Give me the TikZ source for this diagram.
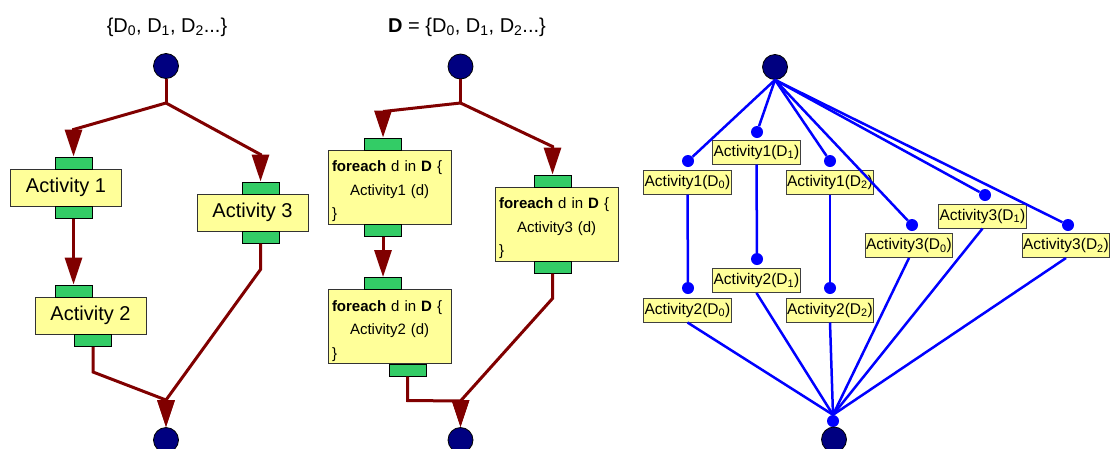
\documentclass[tikz,border=0pt]{standalone}
\usepackage{fontspec}
\setmainfont{Liberation Sans}
\usetikzlibrary{arrows.meta,calc}
\definecolor{boxyellow}{HTML}{FFFF99}
\definecolor{tabgreen}{HTML}{33CC66}
\definecolor{navyc}{HTML}{000080}
\definecolor{maroonc}{HTML}{800000}
\definecolor{bluec}{HTML}{0000FF}
\tikzset{
  act/.style={draw=black!80, fill=boxyellow, line width=1pt, inner sep=0pt,
    minimum width=111pt, minimum height=37pt, font=\fontsize{20}{24}\selectfont},
  loopbox/.style={draw=black!80, fill=boxyellow, line width=1pt, inner xsep=4pt, inner ysep=2pt,
    minimum width=123pt, minimum height=74pt, text width=115pt, align=left,
    font=\fontsize{15}{23.5}\selectfont},
  tabbox/.style={draw=black, fill=tabgreen, line width=1pt, inner sep=0pt,
    minimum width=37pt, minimum height=12pt},
  endpoint/.style={circle, draw=black, fill=navyc, line width=0.8pt, inner sep=0pt, minimum size=25pt},
  flow/.style={draw=maroonc, line width=3pt},
  flowarrow/.style={flow, -{Triangle[length=27pt,width=17pt]}},
  lbl/.style={draw=black!75, fill=boxyellow, line width=1pt, inner sep=1pt,
    minimum width=87pt, minimum height=24pt, font=\fontsize{15.5}{18}\selectfont},
  bdot/.style={circle, fill=bluec, inner sep=0pt, minimum size=12pt},
  blink/.style={draw=bluec, line width=2.5pt},
  titletext/.style={font=\fontsize{20}{24}\selectfont},
}
\newcommand{\Dsub}[1]{D\textsubscript{#1}}
\newcommand{\loopbody}[1]{\rule{0pt}{19.5pt}\textbf{foreach} d in \textbf{D} \{\\\hspace*{18pt}#1 (d)\\\}}
\begin{document}
\begin{tikzpicture}[x=1pt,y=-1pt]
\useasboundingbox (0,0) rectangle (1111,448);
\clip (0,0) rectangle (1111,448);

% ---------------- left diagram ----------------
\node[titletext] (t1) at (167,27) {\{\Dsub{0}, \Dsub{1}, \Dsub{2}...\}};
\node[endpoint] (s1) at (166,66) {};
\coordinate (j1) at (166,103);
\node[act] (a1) at (66,187.5) {Activity 1};
\node[tabbox] (a1in) at (73.5,163) {};
\node[tabbox] (a1out) at (73.5,212) {};
\node[act] (a2) at (90.5,315.5) {Activity 2};
\node[tabbox] (a2in) at (73.5,291) {};
\node[tabbox] (a2out) at (93,340.5) {};
\node[act] (a3) at (252.5,212.5) {Activity 3};
\node[tabbox] (a3in) at (260.5,188) {};
\node[tabbox] (a3out) at (260.5,237) {};
\node[endpoint] (e1) at (166,440) {};
\coordinate (m1) at (166,400);

\draw[flow] (s1.south) -- (j1);
\draw[flowarrow] (j1) -- ($(a1in.north)+(0,-27)$) -- (a1in.north);
\draw[flowarrow] (j1) -- ($(a3in.north)+(0,-27)$) -- (a3in.north);
\draw[flowarrow] (a1out.south) -- (a2in.north);
\draw[flowarrow] (a2out.south) -- ++(0,25) -- (m1) -- (e1.north);
\draw[flowarrow] (a3out.south) -- ++(0,26) -- (m1) -- (e1.north);

% ---------------- middle diagram ----------------
\node[titletext] (t2) at (467,27) {\textbf{D} = \{\Dsub{0}, \Dsub{1}, \Dsub{2}...\}};
\node[endpoint] (s2) at (460.5,66.5) {};
\coordinate (j2) at (460.5,103);
\node[loopbox] (f1) at (389.5,187) {\loopbody{Activity1}};
\node[tabbox] (f1in) at (383,144) {};
\node[tabbox] (f1out) at (383,230) {};
\node[loopbox] (f2) at (389.5,326.5) {\loopbody{Activity2}};
\node[tabbox] (f2in) at (383,283.5) {};
\node[tabbox] (f2out) at (407.5,370) {};
\node[loopbox] (f3) at (556.5,224) {\loopbody{Activity3}};
\node[tabbox] (f3in) at (552.5,181) {};
\node[tabbox] (f3out) at (552.5,267) {};
\node[endpoint] (e2) at (460.5,440) {};
\coordinate (m2) at (460.5,401);

\draw[flow] (s2.south) -- (j2);
\draw[flowarrow] (j2) -- ($(f1in.north)+(0,-26)$) -- (f1in.north);
\draw[flowarrow] (j2) -- ($(f3in.north)+(0,-28)$) -- (f3in.north);
\draw[flowarrow] (f1out.south) -- (f2in.north);
\draw[flowarrow] (f2out.south) -- ++(0,24) -- (m2) -- (e2.north);
\draw[flowarrow] (f3out.south) -- ++(0,25) -- (m2) -- (e2.north);

% ---------------- right diagram ----------------
\node[endpoint] (s3) at (775,67) {};
\node[lbl] (b10) at (687.5,182) {Activity1(\Dsub{0})};
\node[lbl] (b11) at (756.5,152) {Activity1(\Dsub{1})};
\node[lbl] (b12) at (830,182) {Activity1(\Dsub{2})};
\node[lbl] (b20) at (687.5,310) {Activity2(\Dsub{0})};
\node[lbl] (b21) at (756.5,280.5) {Activity2(\Dsub{1})};
\node[lbl] (b22) at (830,310) {Activity2(\Dsub{2})};
\node[lbl] (b30) at (909,245.5) {Activity3(\Dsub{0})};
\node[lbl] (b31) at (982.5,216) {Activity3(\Dsub{1})};
\node[lbl] (b32) at (1066,245.5) {Activity3(\Dsub{2})};
\node[bdot] (d10) at (688,161) {};
\node[bdot] (d11) at (757,132) {};
\node[bdot] (d12) at (830,161) {};
\node[bdot] (d20) at (688,288) {};
\node[bdot] (d21) at (757,259) {};
\node[bdot] (d22) at (830,288) {};
\node[bdot] (d30) at (912,225) {};
\node[bdot] (d31) at (985,195) {};
\node[bdot] (d32) at (1068,225) {};
\node[bdot] (dend) at (833,421) {};
\node[endpoint] (e3) at (834,439.5) {};

\foreach \d in {d10,d11,d12,d30,d31,d32}
  \draw[blink] (s3.south) -- (\d);
\draw[blink] (b10.south) -- (d20);
\draw[blink] (b11.south) -- (d21);
\draw[blink] (b12.south) -- (d22);
\foreach \b in {b20,b21,b22,b30,b31,b32}
  \draw[blink] (\b.south) -- (dend.north);
\end{tikzpicture}
\end{document}
